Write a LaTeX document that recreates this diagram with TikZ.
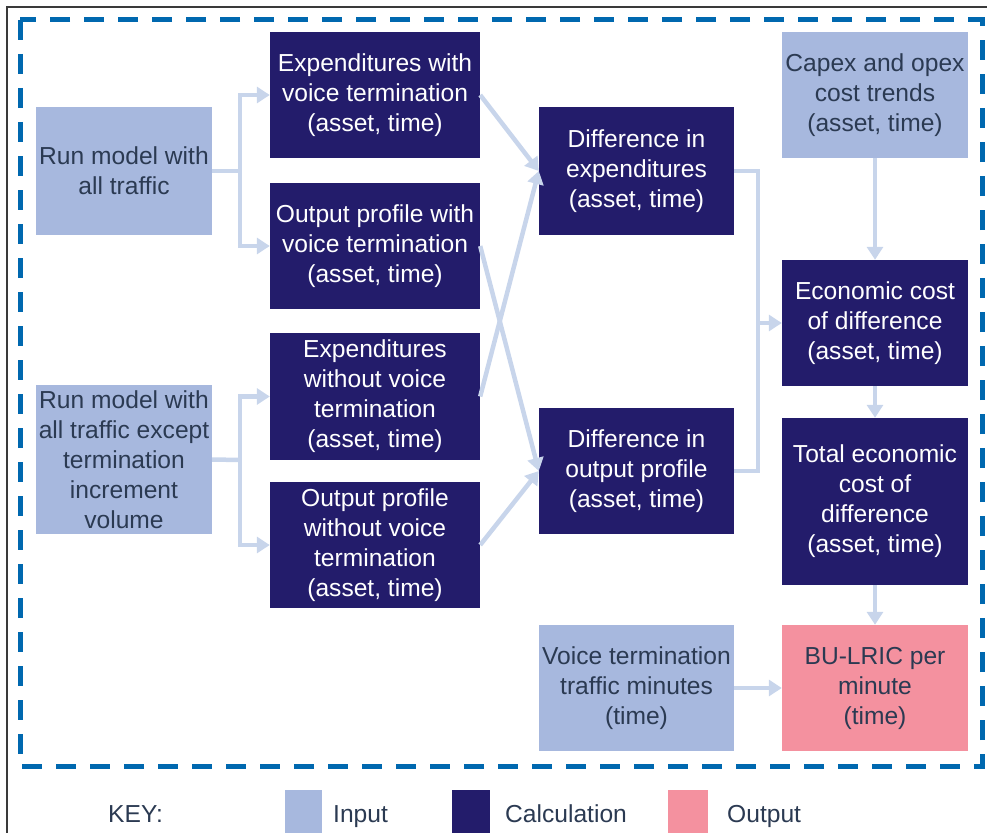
\documentclass[tikz,border=0pt]{standalone}
\usepackage{fontspec}
\setmainfont{Liberation Sans}
\usetikzlibrary{arrows.meta,calc}

\definecolor{inputfill}{HTML}{A7B8DE}
\definecolor{calcfill}{HTML}{231C6B}
\definecolor{outputfill}{HTML}{F4919F}
\definecolor{dashblue}{HTML}{0068AF}
\definecolor{linkblue}{HTML}{C8D5EB}
\definecolor{darktext}{HTML}{2B3A52}
\definecolor{framegray}{HTML}{3A3A3A}

\tikzset{
  box/.style={inner sep=0pt, align=center, minimum width=#1,
    font=\fontsize{24.6}{30}\selectfont},
  inbox/.style={box=#1, fill=inputfill, text=darktext},
  calcbox/.style={box=#1, fill=calcfill, text=white},
  outbox/.style={box=#1, fill=outputfill, text=darktext},
  link/.style={draw=linkblue, line width=4.5pt},
  arr/.style={link, -{Triangle[length=13pt,width=16pt]}},
  keytext/.style={inner sep=0pt, anchor=base west, text=darktext,
    font=\fontsize{24.6}{30}\selectfont},
  swatch/.style={minimum width=#1, minimum height=44pt, inner sep=0pt},
}

\begin{document}
\begin{tikzpicture}[x=1pt,y=-1pt]
\useasboundingbox (0,0) rectangle (987,832);

% outer frame and dashed boundary
\draw[framegray, line width=1.5pt] (7,840) -- (7,7) -- (995,7);
\draw[dashblue, line width=5pt, dash pattern=on 20pt off 14pt]
  (20,20) rectangle (982,766);

% inputs
\node[inbox=176pt, minimum height=128pt] (run1) at (124,171) {Run model with\\all traffic};
\node[inbox=176pt, minimum height=149pt] (run2) at (124,459.5)
  {Run model with\\all traffic except\\termination\\increment\\volume};
\node[inbox=186pt, minimum height=126pt] (capex) at (875,95) {Capex and opex\\cost trends\\(asset, time)};
\node[inbox=195pt, minimum height=126pt] (minutes) at (636.5,688) {Voice termination\\traffic minutes\\(time)};

% calculations
\node[calcbox=210pt, minimum height=126pt] (expw) at (375,95) {Expenditures with\\voice termination\\(asset, time)};
\node[calcbox=210pt, minimum height=126pt] (outw) at (375,246) {Output profile with\\voice termination\\(asset, time)};
\node[calcbox=210pt, minimum height=127pt] (expwo) at (375,396.5) {Expenditures\\without voice\\termination\\(asset, time)};
\node[calcbox=210pt, minimum height=126pt] (outwo) at (375,545) {Output profile\\without voice\\termination\\(asset, time)};
\node[calcbox=195pt, minimum height=128pt] (dexp) at (636.5,171) {Difference in\\expenditures\\(asset, time)};
\node[calcbox=195pt, minimum height=126pt] (dout) at (636.5,471) {Difference in\\output profile\\(asset, time)};
\node[calcbox=186pt, minimum height=126pt] (econ) at (875,323) {Economic cost\\of difference\\(asset, time)};
\node[calcbox=186pt, minimum height=167pt] (total) at (875,501.5) {Total economic\\cost of\\difference\\(asset, time)};

% output
\node[outbox=186pt, minimum height=126pt] (bulric) at (875,688) {BU-LRIC per\\minute\\(time)};

% forks from the model runs
\coordinate (fork1) at (240,171);
\coordinate (fork2) at (240,460);
\draw[link] (run1.east) -- (fork1);
\draw[arr] (fork1) |- (expw.west);
\draw[arr] (fork1) |- (outw.west);
\draw[link] (run2.east) -- (fork2);
\draw[arr] (fork2) |- (expwo.west);
\draw[arr] (fork2) |- (outwo.west);

% differences
\draw[arr] (expw.east) -- (dexp.west);
\draw[arr] (expwo.east) -- (dexp.west);
\draw[arr] (outw.east) -- (dout.west);
\draw[arr] (outwo.east) -- (dout.west);

% merge into economic cost
\coordinate (merge) at (758,323);
\draw[link] (dexp.east) -- ++(24,0) |- (dout.east);
\draw[arr] (merge) -- (econ.west);

% vertical chain
\draw[arr] (capex.south) -- (econ.north);
\draw[arr] (econ.south) -- (total.north);
\draw[arr] (total.south) -- (bulric.north);
\draw[arr] (minutes.east) -- (bulric.west);

% key
\node[keytext] (keylabel) at (108,822) {KEY:};
\node[swatch=37pt, fill=inputfill] (keyin) at (303,812) {};
\node[keytext] (keyintext) at (333,822) {Input};
\node[swatch=38pt, fill=calcfill] (keycalc) at (471,812) {};
\node[keytext] (keycalctext) at (505,822) {Calculation};
\node[swatch=40pt, fill=outputfill] (keyout) at (688,812) {};
\node[keytext] (keyouttext) at (727,822) {Output};
\end{tikzpicture}
\end{document}
